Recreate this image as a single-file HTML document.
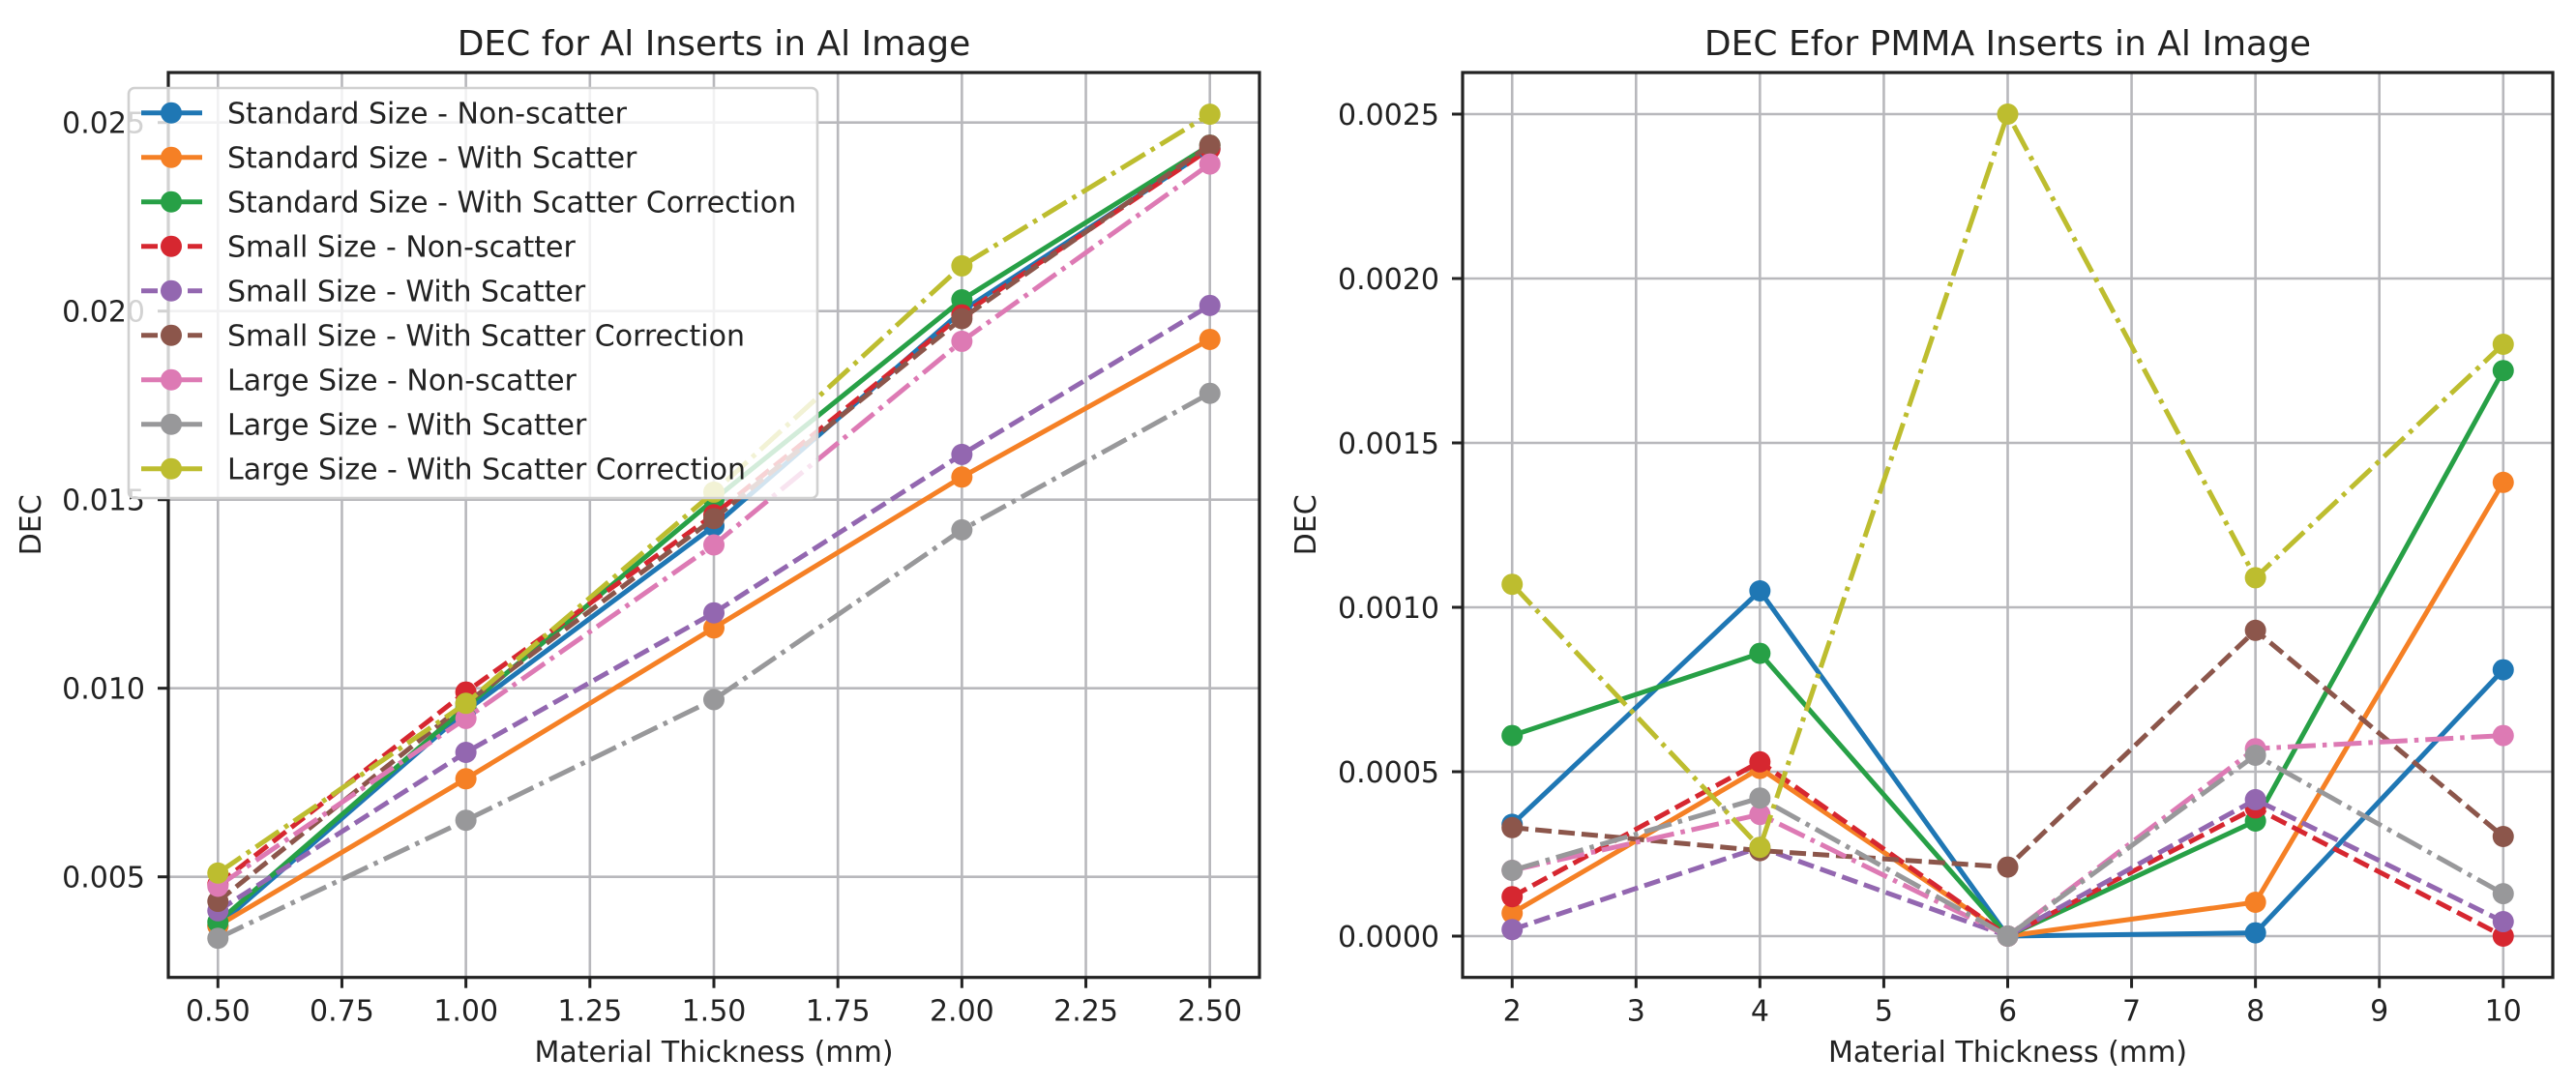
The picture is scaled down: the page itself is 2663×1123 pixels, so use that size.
<!DOCTYPE html>
<html><head><meta charset="utf-8"><style>
html,body{margin:0;padding:0;background:#fff;}
svg{display:block;font-family:"DejaVu Sans","Liberation Sans",sans-serif;}
</style></head><body>
<svg id="fig" width="2663" height="1123" viewBox="0 0 2663 1123" xmlns="http://www.w3.org/2000/svg">
<rect width="2663" height="1123" fill="#fff"/>
<g id="left"></g>
<g id="right"></g>
</svg>
<script>
const seriesNames = ["Standard Size - Non-scatter","Standard Size - With Scatter","Standard Size - With Scatter Correction","Small Size - Non-scatter","Small Size - With Scatter","Small Size - With Scatter Correction","Large Size - Non-scatter","Large Size - With Scatter","Large Size - With Scatter Correction"];
const leftX = [0.5,1.0,1.5,2.0,2.5];
const leftStdNon = [0.0037,0.0094,0.0143,0.0200,0.0243];
const leftStdScat = [0.0037,0.0076,0.0116,0.0156,0.01925];
const leftStdCorr = [0.0038,0.0095,0.0150,0.0203,0.0244];
const leftSmallNon = [0.0048,0.0099,0.0146,0.0199,0.0243];
const leftSmallScat = [0.0041,0.0083,0.0120,0.0162,0.02015];
const leftSmallCorr = [0.00435,0.0096,0.0145,0.0198,0.0244];
const leftLargeNon = [0.00475,0.0092,0.0138,0.0192,0.0239];
const leftLargeScat = [0.00337,0.0065,0.0097,0.0142,0.01782];
const leftLargeCorr = [0.0051,0.0096,0.0152,0.0212,0.02522];
const leftXTicks = ["0.50","0.75","1.00","1.25","1.50","1.75","2.00","2.25","2.50"];
const leftYTicks = ["0.005","0.010","0.015","0.020","0.025"];
const rightX = [2,4,6,8,10];
const rightStdNon = [0.00034,0.00105,0.0,0.00001,0.00081];
const rightStdScat = [0.00007,0.00051,0.0,0.000103,0.00138];
const rightStdCorr = [0.00061,0.00086,0.0,0.00035,0.00172];
const rightSmallNon = [0.00012,0.00053,0.0,0.00039,0.0];
const rightSmallScat = [0.00002,0.00027,0.0,0.000415,0.000044];
const rightSmallCorr = [0.00033,0.00026,0.00021,0.00093,0.000303];
const rightLargeNon = [0.00020,0.00037,0.0,0.00057,0.00061];
const rightLargeScat = [0.00020,0.00042,0.0,0.00055,0.000129];
const rightLargeCorr = [0.00107,0.00027,0.0025,0.00109,0.0018];
const rightXTicks = ["2","3","4","5","6","7","8","9","10"];
const rightYTicks = ["0.0000","0.0005","0.0010","0.0015","0.0020","0.0025"];

const colors = ["#1f77b4","#f58025","#27a046","#d62730","#9367b0","#8c564b","#dd7ab4","#98989a","#bdbd2f"];
const dashes = ["","","","17,7","17,7","17,7","29,7,4.5,7","29,7,4.5,7","29,7,4.5,7"];
const NS="http://www.w3.org/2000/svg";
function mk(tag,attrs,parent){const e=document.createElementNS(NS,tag);for(const k in attrs)e.setAttribute(k,attrs[k]);parent.appendChild(e);return e;}

function drawChart(g, cfg){
  const {x0,x1,y0,y1,xmin,xmax,ymin,ymax}=cfg;
  const sx=v=>x0+(v-xmin)/(xmax-xmin)*(x1-x0);
  const sy=v=>y1-(v-ymin)/(ymax-ymin)*(y1-y0);
  cfg.xTicks.forEach(t=>{const X=sx(parseFloat(t));
    const l=mk('line',{x1:X,x2:X,y1:y0,y2:y1,stroke:'#b8b8bc','stroke-width':2.6},g);
    
    
    const tk=mk('line',{x1:X,x2:X,y1:y1,y2:y1+11,stroke:'#222','stroke-width':3},g);
    
    
    const tx=mk('text',{x:X,y:y1+45,'text-anchor':'middle','font-size':30,fill:'#222'},g);tx.textContent=t;
    
    
  });
  cfg.yTicks.forEach(t=>{const Y=sy(parseFloat(t));
    const l=mk('line',{x1:x0,x2:x1,y1:Y,y2:Y,stroke:'#b8b8bc','stroke-width':2.6},g);
    
    
    const tk=mk('line',{x1:x0-11,x2:x0,y1:Y,y2:Y,stroke:'#222','stroke-width':3},g);
    
    
    const tx=mk('text',{x:x0-24,y:Y+11,'text-anchor':'end','font-size':30,fill:'#222'},g);tx.textContent=t;
    
    
  });
  cfg.series.forEach((vals,i)=>{
    const pts=vals.map((v,j)=>sx(cfg.xs[j])+','+sy(v)).join(' ');
    const pl=mk('polyline',{points:pts,fill:'none',stroke:colors[i],'stroke-width':5,'stroke-dasharray':dashes[i]||'none'},g);
    
    
    vals.forEach((v,j)=>{const c=mk('circle',{cx:sx(cfg.xs[j]),cy:sy(v),r:11,fill:colors[i]},g);
      
      });
  });
  const fr=mk('rect',{x:x0,y:y0,width:x1-x0,height:y1-y0,fill:'none',stroke:'#222','stroke-width':3.2},g);
  
  
  const ti=mk('text',{x:(x0+x1)/2,y:57,'text-anchor':'middle','font-size':36,fill:'#222'},g);ti.textContent=cfg.title;
  
  
  const xl=mk('text',{x:(x0+x1)/2,y:1098,'text-anchor':'middle','font-size':30,fill:'#222'},g);xl.textContent='Material Thickness (mm)';
  
  
  const yc=(y0+y1)/2;
  const yl=mk('text',{x:cfg.ylx,y:yc,'text-anchor':'middle','font-size':30,fill:'#222',transform:`rotate(-90 ${cfg.ylx} ${yc})`},g);yl.textContent='DEC';
  
  
}

const L=document.getElementById('left');
drawChart(L,{x0:174,x1:1302,y0:75,y1:1010.7,xmin:0.4,xmax:2.6,
  ymin:0.015-(1010.7-516.7)/39000, ymax:0.015+(516.7-75)/39000,
  xs:leftX,series:[leftStdNon,leftStdScat,leftStdCorr,leftSmallNon,leftSmallScat,leftSmallCorr,leftLargeNon,leftLargeScat,leftLargeCorr],
  xTicks:leftXTicks,yTicks:leftYTicks,title:'DEC for Al Inserts in Al Image',ylx:42});
const R=document.getElementById('right');
drawChart(R,{x0:1512,x1:2639,y0:75,y1:1010.7,xmin:1.6,xmax:10.4,
  ymin:-(1010.7-968)/340000, ymax:(968-75)/340000,
  xs:rightX,series:[rightStdNon,rightStdScat,rightStdCorr,rightSmallNon,rightSmallScat,rightSmallCorr,rightLargeNon,rightLargeScat,rightLargeCorr],
  xTicks:rightXTicks,yTicks:rightYTicks,title:'DEC Efor PMMA Inserts in Al Image',ylx:1360});

const lg=mk('g',{},L);


mk('rect',{x:133,y:91,width:712,height:424,rx:6,fill:'#fff','fill-opacity':0.8,stroke:'#d0d0d0','stroke-width':2.6},lg);
seriesNames.forEach((n,i)=>{
  const y=116.7+i*46;
  const e=mk('g',{},lg);
  
  
  mk('line',{x1:146,x2:209,y1:y,y2:y,stroke:colors[i],'stroke-width':5,'stroke-dasharray':i>=3?(i>=6?'22,7,5,7':'17,7'):'none'},e);
  mk('circle',{cx:177,cy:y,r:11,fill:colors[i]},e);
  const t=mk('text',{x:235,y:y+11,'font-size':30,fill:'#222'},e);t.textContent=n;
});
</script>
</body></html>
